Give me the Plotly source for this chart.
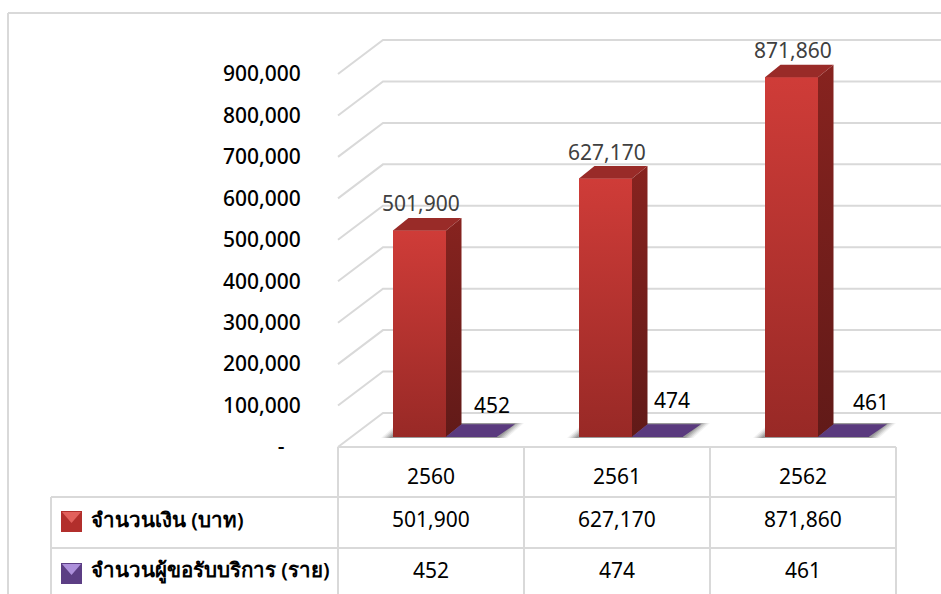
import plotly.graph_objects as go

# ---- data ----
years = ["2560", "2561", "2562"]
money = [501900, 627170, 871860]
clients = [452, 474, 461]
series_names = ["จำนวนเงิน (บาท)", "จำนวนผู้ขอรับบริการ (ราย)"]
tick_vals = [0, 100000, 200000, 300000, 400000, 500000, 600000, 700000, 800000, 900000]
tick_text = ["-\u00a0\u00a0\u00a0", "100,000", "200,000", "300,000", "400,000", "500,000",
             "600,000", "700,000", "800,000", "900,000"]

# ---- geometry ----
W, H = 941, 594
FONT = "Noto Sans, Tahoma, sans-serif"
GRID = "#D9D9D9"
PX_CAT = 186.0          # pixels per category
PX_UNIT = 41.44 / 100000  # pixels per value unit
X0_PX, Y0_PX = 338.0, 447.0
xr = (-0.5 - X0_PX / PX_CAT, -0.5 + (W - X0_PX) / PX_CAT)
yr = (-(H - Y0_PX) / PX_UNIT, Y0_PX / PX_UNIT)
pos = list(range(len(years)))


def dx(p):
    return p / PX_CAT


def dy(p):
    return p / PX_UNIT


def px(x):
    return x / W


def py(y):
    return 1 - y / H


WALL_X, WALL_Y = dx(45), dy(34)
BASE = dy(10)
DEPTH_X, DEPTH_Y = dx(15.5), dy(12.5)
OFF_RED, W_RED = dx(55) - 0.5, dx(53)
OFF_PUR, W_PUR = OFF_RED + W_RED, dx(51)
BAR_TRIM = dy(1.5)

fig = go.Figure()
shapes = []


def line(x0, y0, x1, y1, **k):
    shapes.append(dict(type="line", x0=x0, y0=y0, x1=x1, y1=y1, layer="below",
                       line=dict(color=GRID, width=2), **k))


# back wall gridlines
for v in tick_vals:
    shapes.append(dict(type="path", xref="x", yref="y", layer="below",
                       path=f"M{-0.5},{v} L{-0.5 + WALL_X},{v + WALL_Y} L{xr[1]},{v + WALL_Y}",
                       line=dict(color=GRID, width=2)))

# shadows below the bars
for i in pos:
    for grow, alpha in [(9, 0.08), (7, 0.12), (5, 0.16), (3, 0.2), (1, 0.26)]:
        xl = i + OFF_RED - dx(3 + grow)
        xh = i + OFF_PUR + W_PUR + dx(1 + grow)
        y0 = BASE - dy(1)
        shapes.append(dict(type="path", xref="x", yref="y", layer="below",
                           path=f"M{xl},{y0} L{xl + dx(17)},{y0 + dy(15)} L{xh + dx(17)},{y0 + dy(15)} L{xh},{y0} Z",
                           fillcolor=f"rgba(90,90,90,{alpha})", line=dict(width=0)))

# frame and data table lines
line(px(8), py(13), px(W), py(13), xref="paper", yref="paper")
line(px(8), py(13), px(8), py(H), xref="paper", yref="paper")
line(px(338), py(447), px(896), py(447), xref="paper", yref="paper")
line(px(51), py(497), px(896), py(497), xref="paper", yref="paper")
line(px(51), py(548), px(896), py(548), xref="paper", yref="paper")
line(px(51), py(497), px(51), py(H), xref="paper", yref="paper")
for xp in (338, 524, 710, 896):
    line(px(xp), py(447), px(xp), py(H), xref="paper", yref="paper")

# front faces
fig.add_trace(go.Bar(x=pos, y=[v - BAR_TRIM for v in money], base=[BASE] * 3, width=W_RED, offset=OFF_RED,
                     marker=dict(color="#B5322E", line=dict(width=0)), name=series_names[0],
                     showlegend=False))
fig.add_trace(go.Bar(x=pos, y=clients, base=[BASE] * 3, width=W_PUR, offset=OFF_PUR,
                     marker=dict(color="#5A3A7E", line=dict(width=0)), name=series_names[1],
                     showlegend=False))


def poly(xs, ys, grad=None, color=None, name=""):
    k = dict(x=xs + xs[:1], y=ys + ys[:1], mode="lines", fill="toself",
             line=dict(width=0), showlegend=False, hoverinfo="skip", name=name)
    if grad:
        k["fillgradient"] = dict(type="vertical", colorscale=[[0, grad[0]], [1, grad[1]]])
    else:
        k["fillcolor"] = color
    fig.add_trace(go.Scatter(**k))


for i, v in zip(pos, money):
    l, r = i + OFF_RED, i + OFF_RED + W_RED
    t = BASE + v - BAR_TRIM
    poly([l, r, r, l], [BASE, BASE, t, t], grad=("#982926", "#CF3C38"))
    poly([r, r + DEPTH_X, r + DEPTH_X, r], [BASE, BASE + DEPTH_Y, t + DEPTH_Y, t],
         grad=("#611A18", "#87231F"))
    poly([l, r, r + DEPTH_X, l + DEPTH_X], [t, t, t + DEPTH_Y, t + DEPTH_Y], color="#992B28")

for i, v in zip(pos, clients):
    l, r = i + OFF_PUR, i + OFF_PUR + W_PUR
    t = BASE + v
    poly([l, r, r + DEPTH_X + dx(2.5), l + DEPTH_X], [t, t, t + DEPTH_Y, t + DEPTH_Y], color="#5A3A7E")

ann = []
# value labels, nudged by hand in the original chart
for i, v, xs, ys in zip(pos, money, (-10, -10, -10), (26, 25, 26)):
    ann.append(dict(x=i, y=BASE + v, text=f"{v:,}", showarrow=False, xshift=xs, yshift=ys,
                    xanchor="center", yanchor="middle",
                    font=dict(family=FONT, size=21, color="#404040")))
for i, v, xs, ys in zip(pos, clients, (61, 55, 68), (32, 37, 35)):
    ann.append(dict(x=i, y=BASE + v, text=f"{v:,}", showarrow=False, xshift=xs, yshift=ys,
                    xanchor="center", yanchor="middle",
                    font=dict(family=FONT, size=21, color="#000000")))

# data table text
for i, yr_, m, c in zip(pos, years, money, clients):
    for txt, yp in ((yr_, 476), (f"{m:,}", 519), (f"{c:,}", 570)):
        ann.append(dict(x=i, y=py(yp), xref="x", yref="paper", text=txt, showarrow=False,
                        xanchor="center", yanchor="middle",
                        font=dict(family=FONT, size=21, color="#000000")))
for name, yp in zip(series_names, (519, 569)):
    ann.append(dict(x=px(89), y=py(yp), xref="paper", yref="paper", text=name, showarrow=False,
                    xanchor="left", yanchor="middle",
                    font=dict(family=FONT, size=20.5, color="#000000", weight=600)))

# legend keys
for y0, side, tri in ((511, "#B22F2C", "#E2615C"), (563, "#5C3E84", "#AD90DB")):
    shapes.append(dict(type="rect", xref="paper", yref="paper", x0=px(61), x1=px(82),
                       y0=py(y0), y1=py(y0 + 21), fillcolor=side, line=dict(width=0)))
    shapes.append(dict(type="path", xref="paper", yref="paper",
                       path=f"M{px(62)},{py(y0 + 1)} L{px(81)},{py(y0 + 1)} L{px(71.5)},{py(y0 + 12)} Z",
                       fillcolor=tri, line=dict(width=0)))

fig.update_layout(
    width=W, height=H, margin=dict(l=0, r=0, t=0, b=0), paper_bgcolor="white",
    plot_bgcolor="white", barmode="overlay", showlegend=False, shapes=shapes, annotations=ann,
    xaxis=dict(range=list(xr), visible=False, fixedrange=True),
    yaxis=dict(range=list(yr), anchor="free", position=X0_PX / W, side="left",
               tickmode="array", tickvals=tick_vals, ticktext=tick_text,
               ticks="outside", ticklen=33, tickcolor="rgba(0,0,0,0)",
               showgrid=False, zeroline=False, showline=False, fixedrange=True,
               tickfont=dict(family=FONT, size=21, color="#000000", weight=500)),
)
fig.write_html("out.html", config={"displayModeBar": False},
               post_script="document.body.style.margin='0';document.documentElement.style.overflow='hidden';")
